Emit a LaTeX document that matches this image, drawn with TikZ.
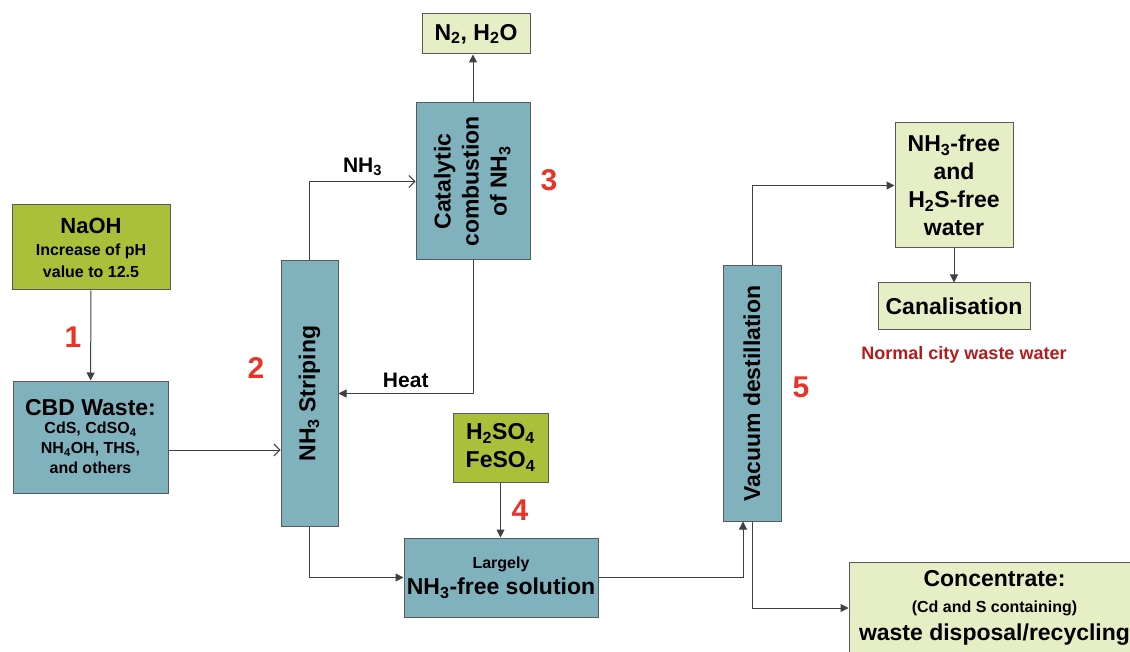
\documentclass[tikz,border=0pt]{standalone}
\usepackage{fontspec}
\setmainfont{Liberation Sans}
\usetikzlibrary{arrows.meta}

\definecolor{tealfill}{RGB}{128,178,190}
\definecolor{olivefill}{RGB}{170,192,58}
\definecolor{palefill}{RGB}{230,238,197}
\definecolor{stepred}{RGB}{232,52,40}
\definecolor{notered}{RGB}{180,28,28}

\newcommand{\chemsub}[1]{\textsubscript{#1}}
\newcommand{\bigfont}{\fontsize{23}{28}\selectfont}
\newcommand{\smallfont}{\fontsize{16}{21}\selectfont}

\tikzset{
  box/.style={draw=black!65, line width=1pt, inner sep=0pt, align=center,
    font=\bfseries\bigfont},
  tealbox/.style={box, fill=tealfill},
  olivebox/.style={box, fill=olivefill},
  palebox/.style={box, fill=palefill},
  smalltext/.style={font=\bfseries\smallfont},
  stepno/.style={text=stepred, font=\bfseries\fontsize{30}{30}\selectfont},
  conn/.style={draw=black!75, line width=1pt},
  solid/.style={conn, -{Triangle[length=8pt,width=8pt]}},
  barb/.style={conn, -{Straight Barb[length=6pt,width=12pt]}},
}

\begin{document}
\begin{tikzpicture}[x=1pt, y=-1pt]
  \useasboundingbox (0,0) rectangle (1130,652);

  % boxes
  \node[olivebox, smalltext, minimum width=158pt, minimum height=85pt] (naoh) at (91,247.5)
    {\fontsize{22}{24}\selectfont NaOH\\[1pt]
     Increase of pH\\[1pt]value to 12.5};
  \node[tealbox, smalltext, minimum width=155pt, minimum height=112pt] (cbd) at (90.5,437)
    {\bigfont CBD Waste:\\[-3pt]
     CdS, CdSO\chemsub{4}\\[-1pt]NH\chemsub{4}OH, THS,\\[-1pt]and others};
  \node[tealbox, minimum width=57pt, minimum height=265pt] (strip) at (309.5,393.5)
    {\rotatebox{90}{NH\chemsub{3} Striping}};
  \node[tealbox, minimum width=114pt, minimum height=157pt] (cat) at (473,181.5)
    {\rotatebox{90}{\begin{tabular}{@{}c@{}}Catalytic\\combustion\\of NH\chemsub{3}\end{tabular}}};
  \node[palebox, minimum width=108pt, minimum height=40pt] (n2) at (476,34)
    {N\chemsub{2}, H\chemsub{2}O};
  \node[olivebox, minimum width=95pt, minimum height=69pt] (acid) at (500.5,447.5)
    {H\chemsub{2}SO\chemsub{4}\\FeSO\chemsub{4}};
  \node[tealbox, minimum width=194pt, minimum height=79pt] (sol) at (501,577.5)
    {\smallfont Largely\\[-2pt]NH\chemsub{3}-free solution};
  \node[tealbox, minimum width=58pt, minimum height=255pt] (vac) at (752,393.5)
    {\rotatebox{90}{Vacuum destillation}};
  \node[palebox, minimum width=118pt, minimum height=125pt] (free) at (954,185.5)
    {NH\chemsub{3}-free\\and\\H\chemsub{2}S-free\\water};
  \node[palebox, minimum width=152pt, minimum height=47pt] (canal) at (954,306.5)
    {Canalisation};
  \node[palebox, minimum width=291pt, minimum height=92pt] (conc) at (994.5,608)
    {Concentrate:\\[-2pt]
     \smallfont (Cd and S containing)\\[0pt]
     waste disposal/recycling};

  % labels
  \node[stepno] (one) at (73,337) {1};
  \node[stepno] (two) at (256,368) {2};
  \node[stepno] (three) at (549,180) {3};
  \node[stepno] (four) at (520,510) {4};
  \node[stepno] (five) at (801,387) {5};
  \node[text=notered, font=\bfseries\fontsize{18}{20}\selectfont] (city) at (964,355)
    {Normal city waste water};

  % connectors
  \draw[solid] (naoh) -- (cbd);
  \draw[barb] ([yshift=-13pt]cbd.east) -- ([yshift=-13pt]cbd.east -| strip.west);
  \draw[barb] (strip.north) |- (cat.west)
    node[pos=0.75, above=2pt, font=\bfseries\fontsize{21}{24}\selectfont] {NH\chemsub{3}};
  \draw[solid] (cat.south) |- (strip.east)
    node[pos=0.75, above=2pt, font=\bfseries\fontsize{21}{24}\selectfont] {Heat};
  \draw[solid] (cat.north) -- (cat.north |- n2.south);
  \draw[solid] (acid.south) -- (acid.south |- sol.north);
  \draw[solid] (strip.south) |- (sol.west);
  \draw[solid] (sol.east) -| ([xshift=-9pt]vac.south);
  \draw[solid] (vac.north) |- (free.west);
  \draw[solid] (vac.south) |- (conc.west);
  \draw[solid] (free) -- (canal);
\end{tikzpicture}
\end{document}
